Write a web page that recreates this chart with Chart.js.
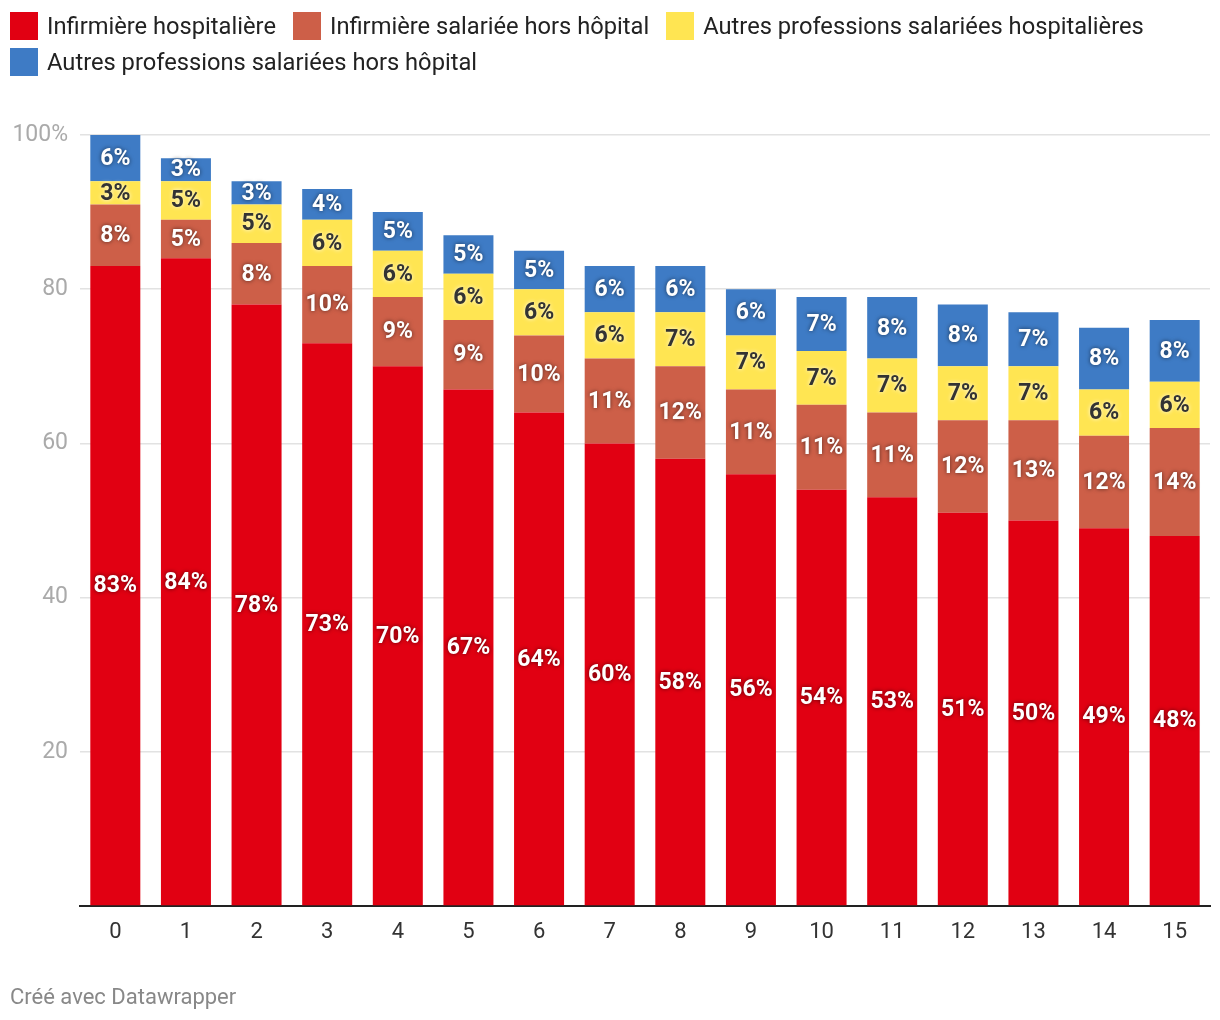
<!DOCTYPE html>
<html>
<head>
<meta charset="utf-8">
<script src="https://cdn.jsdelivr.net/npm/chart.js@4.4.1/dist/chart.umd.min.js"></script>
<style>
  body { margin: 0; background: #fff; font-family: Roboto, "Noto Sans", sans-serif; }
  #wrap { position: relative; width: 1220px; height: 1020px; }
  #legend { position: absolute; left: 10px; top: 12px; width: 1200px; display: flex; flex-wrap: wrap; column-gap: 17px; row-gap: 8px; }
  .item { display: flex; align-items: center; font-size: 23.7px; line-height: 28px; color: #222; }
  .box { width: 28px; height: 28px; margin-right: 9px; }
  #credit { position: absolute; left: 10px; top: 984px; font-size: 22px; color: #888; }
  canvas { position: absolute; left: 0; top: 0; }
</style>
</head>
<body>
<div id="wrap">
  <canvas id="chart" width="1220" height="1020"></canvas>
  <div id="legend"></div>
  <div id="credit">Créé avec Datawrapper</div>
</div>
<script>
var categories = ['0', '1', '2', '3', '4', '5', '6', '7', '8', '9', '10', '11', '12', '13', '14', '15'];
var seriesNames = ['Infirmière hospitalière', 'Infirmière salariée hors hôpital', 'Autres professions salariées hospitalières', 'Autres professions salariées hors hôpital'];
var infHosp = [83, 84, 78, 73, 70, 67, 64, 60, 58, 56, 54, 53, 51, 50, 49, 48];
var infHors = [8, 5, 8, 10, 9, 9, 10, 11, 12, 11, 11, 11, 12, 13, 12, 14];
var autresHosp = [3, 5, 5, 6, 6, 6, 6, 6, 7, 7, 7, 7, 7, 7, 6, 6];
var autresHors = [6, 3, 3, 4, 5, 5, 5, 6, 6, 6, 7, 8, 8, 7, 8, 8];
var yTicks = [0, 20, 40, 60, 80, 100];
var colors = ['#e10012', '#cd5f48', '#ffe552', '#3e7bc5'];

// légende en HTML
var legend = document.getElementById('legend');
seriesNames.forEach(function(name, i) {
    var item = document.createElement('div');
    item.className = 'item';
    item.innerHTML = '<span class="box" style="background:' + colors[i] + '"></span>' + name;
    legend.appendChild(item);
});

// étiquettes au centre des segments
var barLabels = {
    id: 'barLabels',
    afterDatasetsDraw: function(chart) {
        var ctx = chart.ctx;
        ctx.save();
        ctx.font = 'bold 23px Roboto';
        ctx.textAlign = 'center';
        ctx.textBaseline = 'middle';
        chart.data.datasets.forEach(function(ds, di) {
            var meta = chart.getDatasetMeta(di);
            meta.data.forEach(function(bar, i) {
                var yMid = (bar.y + bar.base) / 2;
                if (di === 2) {
                    ctx.fillStyle = '#333';
                    ctx.shadowColor = 'rgba(255,255,255,0.9)';
                } else {
                    ctx.fillStyle = '#fff';
                    ctx.shadowColor = 'rgba(0,0,0,0.6)';
                }
                ctx.shadowBlur = 4;
                ctx.fillText(ds.data[i] + '%', bar.x, yMid + 1);
            });
        });
        ctx.restore();
    }
};

var ctx = document.getElementById('chart').getContext('2d');
var chart = new Chart(ctx, {
    type: 'bar',
    data: {
        labels: categories,
        datasets: [infHosp, infHors, autresHosp, autresHors].map(function(d, i) {
            return {
                label: seriesNames[i],
                data: d,
                backgroundColor: colors[i],
                borderWidth: 0,
                barPercentage: 0.708,
                categoryPercentage: 1
            };
        })
    },
    options: {
        responsive: false,
        animation: false,
        layout: { padding: { top: 135, right: 10, bottom: 64, left: 0 } },
        plugins: {
            legend: { display: false },
            tooltip: { enabled: false }
        },
        scales: {
            x: {
                stacked: true,
                grid: { display: false },
                border: { display: true, color: '#222', width: 2 },
                ticks: { color: '#333', font: { family: 'Roboto', size: 22 }, padding: 5 },
                afterFit: function(scale) { scale.height = 50; }
            },
            y: {
                stacked: true,
                min: 0,
                max: 100,
                afterBuildTicks: function(scale) {
                    scale.ticks = yTicks.map(function(v) { return { value: v }; });
                },
                grid: {
                    drawTicks: false,
                    color: function(c) { return c.tick && c.tick.value === 0 ? 'rgba(0,0,0,0)' : '#e2e2e2'; },
                    lineWidth: 1.5
                },
                border: { display: false },
                ticks: {
                    color: '#aaa',
                    font: { family: 'Roboto', size: 23 },
                    padding: 12,
                    callback: function(v) {
                        if (v === 0) return '';
                        return v === 100 ? '100%' : v;
                    }
                },
                afterFit: function(scale) { scale.width = 80; }
            }
        }
    },
    plugins: [barLabels]
});
</script>
</body>
</html>
